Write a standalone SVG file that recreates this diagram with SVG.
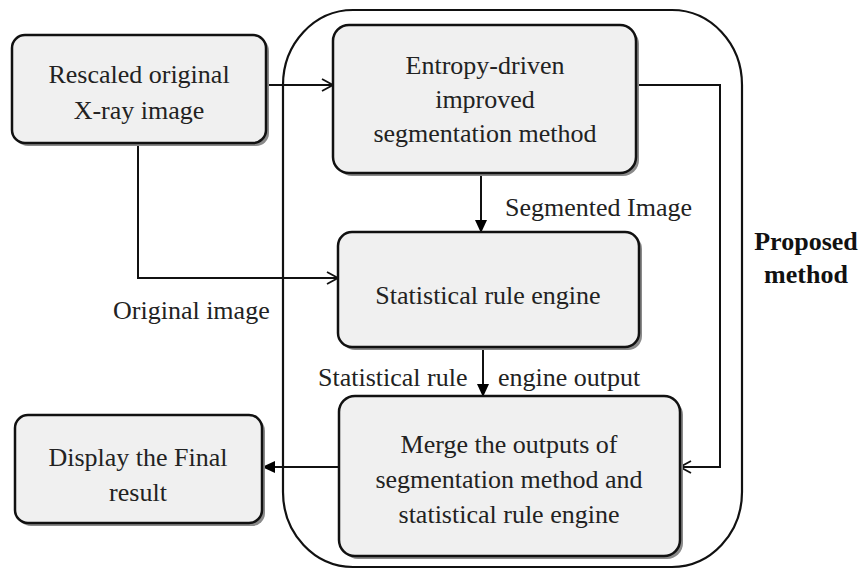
<svg xmlns="http://www.w3.org/2000/svg" width="859" height="569" viewBox="0 0 859 569">
<defs>
<marker id="open" markerWidth="14" markerHeight="14" refX="12" refY="7" orient="auto" markerUnits="userSpaceOnUse">
<path d="M1,1 L12,7 L1,13" fill="none" stroke="#111" stroke-width="1.8"/>
</marker>
<marker id="fill" markerWidth="14" markerHeight="14" refX="12" refY="7" orient="auto" markerUnits="userSpaceOnUse">
<path d="M0,1 L13,7 L0,13 Z" fill="#000"/>
</marker>
</defs>
<style>
.box{fill:#f0f0f0;stroke:#111;stroke-width:2.5}
.sh{fill:#8a8a8a}
.t{font-size:26px;fill:#222;text-anchor:middle}
.lbl{font-size:26px;fill:#222}
.b{font-size:26px;font-weight:bold;fill:#111;text-anchor:middle}
.c{fill:none;stroke:#111;stroke-width:2}
</style>
<rect width="859" height="569" fill="#fff"/>
<g font-family="Liberation Serif, DejaVu Serif, serif">
<g id="container">
<rect x="283" y="10" width="459" height="557" rx="70" ry="75" fill="none" stroke="#111" stroke-width="2.2"/>
<text class="b" x="806" y="250">Proposed</text>
<text class="b" x="806" y="283">method</text>
</g>
<g id="connectors">
<path class="c" d="M266,85 H333" marker-end="url(#open)"/>
<path class="c" d="M138,143 V278 H338" marker-end="url(#open)"/>
<path class="c" d="M481,173 V232" marker-end="url(#fill)"/>
<path class="c" d="M483,347 V396" marker-end="url(#fill)"/>
<path class="c" d="M637,85 H720 V467 H680" marker-end="url(#open)"/>
<path class="c" d="M339,467 H263" marker-end="url(#fill)"/>
<text class="lbl" x="505" y="216">Segmented  Image</text>
<text class="lbl" x="113" y="319">Original image</text>
<text class="lbl" x="318" y="386">Statistical rule</text>
<text class="lbl" x="498" y="386">engine output</text>
</g>
<g id="rescaled">
<rect class="sh" x="15" y="38" width="254" height="108" rx="13"/>
<rect class="box" x="12" y="35" width="254" height="108" rx="13"/>
<text class="t" x="139" y="83">Rescaled original</text>
<text class="t" x="139" y="119">X-ray image</text>
</g>
<g id="entropy">
<rect class="sh" x="336" y="28" width="303" height="148" rx="16"/>
<rect class="box" x="333" y="25" width="303" height="148" rx="16"/>
<text class="t" x="485" y="74">Entropy-driven</text>
<text class="t" x="485" y="108">improved</text>
<text class="t" x="485" y="142">segmentation method</text>
</g>
<g id="statistical">
<rect class="sh" x="341" y="235" width="301" height="115" rx="14"/>
<rect class="box" x="338" y="232" width="301" height="115" rx="14"/>
<text class="t" x="488" y="304">Statistical rule engine</text>
</g>
<g id="merge">
<rect class="sh" x="342" y="399" width="341" height="160" rx="16"/>
<rect class="box" x="339" y="396" width="341" height="160" rx="16"/>
<text class="t" x="509" y="453">Merge the outputs of</text>
<text class="t" x="509" y="488">segmentation method and</text>
<text class="t" x="509" y="523">statistical rule engine</text>
</g>
<g id="display">
<rect class="sh" x="18" y="418" width="247" height="108" rx="13"/>
<rect class="box" x="15" y="415" width="247" height="108" rx="13"/>
<text class="t" x="138" y="466">Display the Final</text>
<text class="t" x="138" y="501">result</text>
</g>
</g>
</svg>
